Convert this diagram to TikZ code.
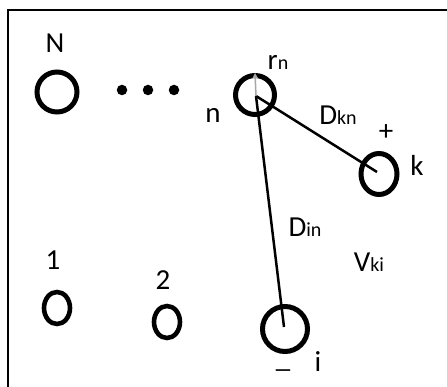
\documentclass[tikz,border=0pt]{standalone}
\usepackage{fontspec}
\setmainfont{Carlito}
\usetikzlibrary{arrows.meta,shapes.geometric}
\newcommand{\sbs}[1]{{\fontsize{20}{20}\selectfont #1}}
\begin{document}
\begin{tikzpicture}[x=1pt,y=-1pt,
  atom/.style={ellipse,draw=black,line width=5pt,inner sep=0pt,minimum width=#1,minimum height=#1},
  lbl/.style={font=\fontsize{29}{29}\selectfont,inner sep=0pt},
  dotm/.style={circle,fill=black,inner sep=0pt,minimum size=10.5pt},
  link/.style={line width=2.5pt,black}]
\useasboundingbox (0,0) rectangle (447,387);
\fill[white] (0,0) rectangle (447,387);
% frame (only top and left visible)
\coordinate (fa) at (447,10);
\coordinate (fb) at (8,10);
\coordinate (fc) at (8,387);
\draw[line width=2.6pt] (fa) -- (fb) -- (fc);
% atoms
\node[atom=40pt] (N) at (57,92) {};
\node[atom=39pt] (n) at (255,95) {};
\node[atom=36pt,minimum height=41pt] (k) at (379,174) {};
\node[atom=45pt] (i) at (285,329) {};
\node[atom=26pt,minimum height=32pt,line width=4.6pt] (a1) at (57,308) {};
\node[atom=26pt,minimum height=32pt,line width=4.6pt] (a2) at (167,322) {};
% dots
\node[dotm] (d1) at (122,90) {};
\node[dotm] (d2) at (148,90) {};
\node[dotm] (d3) at (174,90) {};
% connectors
\coordinate (nc) at (256,96);
\coordinate (kc) at (377,172);
\coordinate (ic) at (284,327);
\draw[link] (nc) -- (kc);
\draw[link] (nc) -- (ic);
\coordinate (rt) at (255,73);
\draw[gray!70,line width=1.5pt,-{Triangle[length=5pt,width=5pt]}] (nc) -- (rt);
% labels
\node[lbl] (lN) at (55,43) {N};
\node[lbl] (lrn) at (278,62) {r\sbs{n}};
\node[lbl] (ln) at (213,115) {n};
\node[lbl] (lDkn) at (338,115) {D\sbs{kn}};
\node[lbl] (lplus) at (386,133) {+};
\node[lbl] (lk) at (417,165) {k};
\node[lbl] (lDin) at (305,227) {D\sbs{in}};
\node[lbl] (lVki) at (369,262) {V\sbs{ki}};
\node[lbl] (l1) at (53,260) {1};
\node[lbl] (l2) at (163,280) {2};
\node[lbl] (lminus) at (283,369) {\_};
\node[lbl] (li) at (318,362) {i};
\end{tikzpicture}
\end{document}
